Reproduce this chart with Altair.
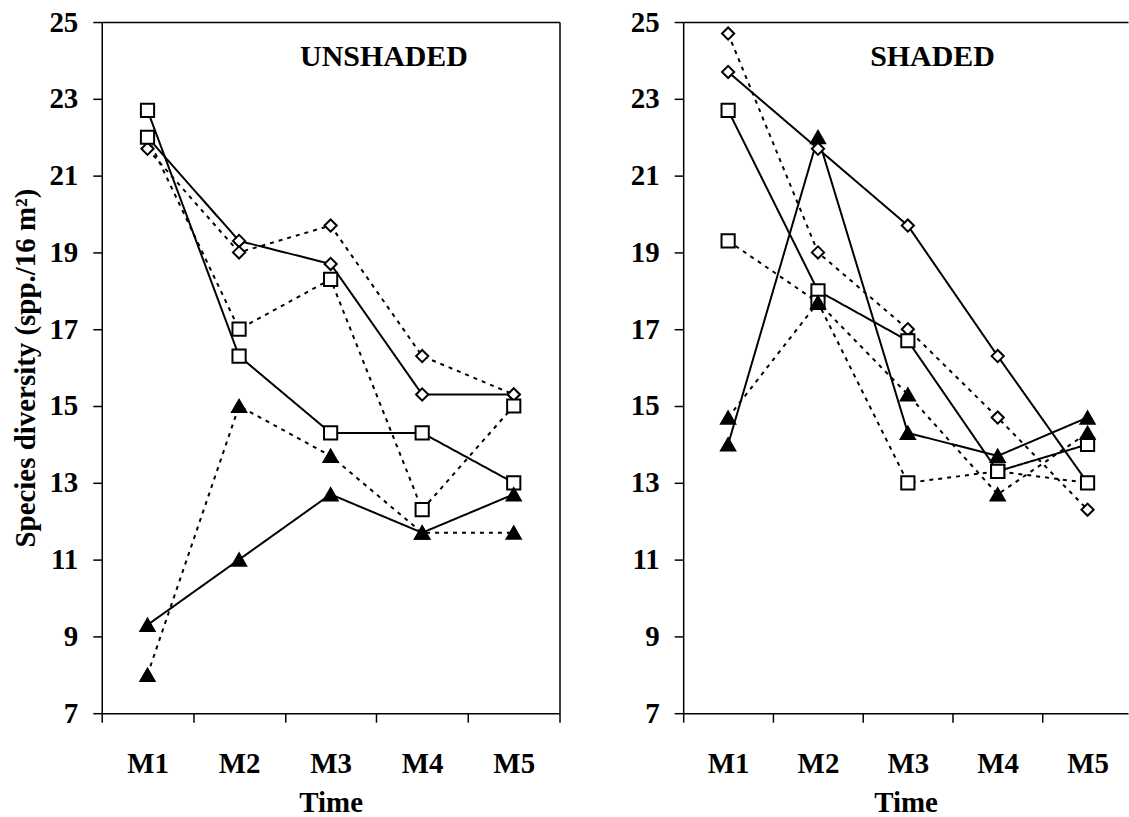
import json
import altair as alt
import pandas as pd

times = ["M1", "M2", "M3", "M4", "M5"]
y_ticks = [7, 9, 11, 13, 15, 17, 19, 21, 23, 25]

# UNSHADED panel
un_diamond_solid = [22.0, 19.3, 18.7, 15.3, 15.3]
un_diamond_dashed = [21.7, 19.0, 19.7, 16.3, 15.3]
un_square_solid = [22.7, 16.3, 14.3, 14.3, 13.0]
un_square_dashed = [22.0, 17.0, 18.3, 12.3, 15.0]
un_triangle_solid = [9.3, 11.0, 12.7, 11.7, 12.7]
un_triangle_dashed = [8.0, 15.0, 13.7, 11.7, 11.7]

# SHADED panel
sh_diamond_solid = [23.7, 21.7, 19.7, 16.3, 13.0]
sh_diamond_dashed = [24.7, 19.0, 17.0, 14.7, 12.3]
sh_square_solid = [22.7, 18.0, 16.7, 13.3, 14.0]
sh_square_dashed = [19.3, 17.7, 13.0, 13.3, 13.0]
sh_triangle_solid = [14.0, 22.0, 14.3, 13.7, 14.7]
sh_triangle_dashed = [14.7, 17.7, 15.3, 12.7, 14.3]

series = {
    "UNSHADED": [
        ("diamond", "solid", un_diamond_solid),
        ("diamond", "dashed", un_diamond_dashed),
        ("square", "solid", un_square_solid),
        ("square", "dashed", un_square_dashed),
        ("triangle", "solid", un_triangle_solid),
        ("triangle", "dashed", un_triangle_dashed),
    ],
    "SHADED": [
        ("diamond", "solid", sh_diamond_solid),
        ("diamond", "dashed", sh_diamond_dashed),
        ("square", "solid", sh_square_solid),
        ("square", "dashed", sh_square_dashed),
        ("triangle", "solid", sh_triangle_solid),
        ("triangle", "dashed", sh_triangle_dashed),
    ],
}

FONT = "Liberation Serif"
FS = 29


def make_df(panel):
    rows = []
    for marker, style, vals in series[panel]:
        for i, (t, v) in enumerate(zip(times, vals)):
            rows.append({"time": t, "pos": i + 0.5, "value": v,
                         "marker": marker, "style": style,
                         "series": f"{marker}-{style}"})
    return pd.DataFrame(rows)


label_expr = f"datum.value % 1 == 0.5 ? {json.dumps(times)}[floor(datum.value)] : ''"


def panel(name, width, xmax, left):
    df = make_df(name)
    xscale = alt.Scale(domain=[0, xmax], nice=False, zero=False)
    yscale = alt.Scale(domain=[7, 25], nice=False, zero=False)
    xvals = [k / 2 for k in range(0, int(xmax * 2) + 1)]
    base = alt.Chart(df)

    lines = base.mark_line(color="black", strokeWidth=2).encode(
        x=alt.X("pos:Q", scale=xscale,
                axis=alt.Axis(orient="top", labels=False, ticks=False,
                              domain=True, title=None, grid=False,
                              minExtent=0, maxExtent=0)),
        y=alt.Y("value:Q", scale=yscale,
                axis=(alt.Axis(orient="right", labels=False, ticks=False,
                               domain=True, title=None, grid=False,
                               minExtent=0, maxExtent=0)
                      if left else None)),
        strokeDash=alt.StrokeDash(
            "style:N",
            scale=alt.Scale(domain=["solid", "dashed"], range=[[1, 0], [4, 5]]),
            legend=None),
        detail="series:N",
    )

    points = base.mark_point(filled=True, stroke="black", strokeWidth=2,
                             opacity=1).encode(
        x=alt.X("pos:Q", scale=xscale,
                axis=alt.Axis(values=xvals, labelExpr=label_expr,
                              tickOpacity={"condition": {"test": "datum.value % 1 != 0", "value": 0}, "value": 1},
                              labelOverlap=False, labelFlush=False,
                              labelPadding=27, title="Time", titlePadding=11,
                              grid=False)),
        y=alt.Y("value:Q", scale=yscale,
                axis=alt.Axis(values=y_ticks, labelPadding=15, grid=False,
                              title=("Species diversity (spp./16 m²)" if left else None),
                              titlePadding=8)),
        shape=alt.Shape("marker:N",
                        scale=alt.Scale(domain=["diamond", "square", "triangle"],
                                        range=["diamond", "square", "triangle-up"]),
                        legend=None),
        fill=alt.Fill("marker:N",
                      scale=alt.Scale(domain=["diamond", "square", "triangle"],
                                      range=["white", "white", "black"]),
                      legend=None),
        size=alt.Size("marker:N",
                      scale=alt.Scale(domain=["diamond", "square", "triangle"],
                                      range=[150, 200, 250]),
                      legend=None),
    )

    text = alt.Chart(pd.DataFrame({"t": [name]})).mark_text(
        font=FONT, fontSize=30, fontWeight="bold", align="center",
        baseline="alphabetic", color="black").encode(
        text="t:N",
        x=alt.value(283 if left else 250),
        y=alt.value(44),
    )

    return alt.layer(lines, points, text).resolve_axis(
        x="independent", y="independent").properties(width=width, height=693)


left = panel("UNSHADED", 459, 5, True)
right = panel("SHADED", 446, 4.95, False)

chart = alt.hconcat(left, right, spacing=68).properties(
    padding={"left": 11, "top": 6, "right": 0, "bottom": 0}
).configure_view(stroke="transparent").configure_axis(
    labelFont=FONT, labelFontSize=FS, labelFontWeight="bold", labelColor="black",
    titleFont=FONT, titleFontSize=FS, titleFontWeight="bold", titleColor="black",
    domainColor="black", domainWidth=1.5, tickColor="black", tickWidth=1.5,
    tickSize=9,
)

chart.save("out.html", embed_options={"renderer": "svg", "actions": False})
